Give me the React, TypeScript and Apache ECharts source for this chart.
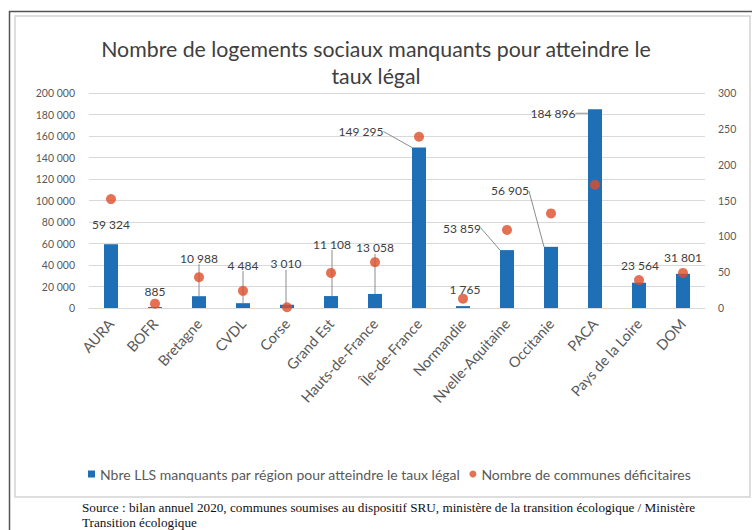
import React, { useEffect, useRef } from "react";
import * as echarts from "echarts";

const categories = [
  "AURA", "BOFR", "Bretagne", "CVDL", "Corse", "Grand Est", "Hauts-de-France",
  "Île-de-France", "Normandie", "Nvelle-Aquitaine", "Occitanie", "PACA",
  "Pays de la Loire", "DOM",
];
const logementsManquants = [59324, 885, 10988, 4484, 3010, 11108, 13058, 149295, 1765, 53859, 56905, 184896, 23564, 31801];
const communesDeficitaires = [152, 6, 43, 24, 1, 49, 64, 239, 13, 109, 132, 172, 39, 49];

const seriesBarName = "Nbre LLS manquants par région pour atteindre le taux légal";
const seriesDotName = "Nombre de communes déficitaires";
const titleText = "Nombre de logements sociaux manquants pour atteindre le\ntaux légal";
const sourceLine1 = "Source : bilan annuel 2020, communes soumises au dispositif SRU, ministère de la transition écologique / Ministère";
const sourceLine2 = "Transition écologique";

const leftMax = 200000;
const leftInterval = 20000;
const rightMax = 300;
const rightInterval = 50;

// label displacements (styling) and leader-line flags
const labelDx = [0, 0, 0, 0, -1, 1, 0, -58, 2, -45, -41, -42, 1, 0];
const labelDy = [-9, -5, -27, -27, -30, -41, -35, -5, -6, -11, -45, 15, -6, -5];
const labelLines = [false, false, true, true, true, true, true, true, false, true, true, true, false, false];

const fmt = (v: number) => String(Math.round(v)).replace(/\B(?=(\d{3})+(?!\d))/g, " ");

const FONT = "Lato, 'Open Sans', sans-serif";

export default function App() {
  const ref = useRef<HTMLDivElement>(null);
  useEffect(() => {
    if (!ref.current) return;
    const chart = echarts.init(ref.current, undefined, { renderer: "svg" });
    chart.setOption({
      animation: false,
      backgroundColor: "#ffffff",
      textStyle: { fontFamily: FONT },
      title: {
        text: titleText,
        left: "center",
        top: 30,
        textStyle: {
          fontFamily: FONT,
          fontSize: 21.3,
          fontWeight: "normal",
          color: "#404040",
          lineHeight: 27,
        },
      },
      grid: { left: 89, right: 47, top: 93, bottom: 222 },
      legend: {
        left: 83,
        top: 462,
        itemWidth: 7,
        itemHeight: 7,
        itemGap: 9,
        textStyle: { fontFamily: FONT, fontSize: 14, color: "#595959" },
        data: [
          { name: seriesBarName, icon: "rect" },
          { name: seriesDotName, icon: "circle" },
        ],
      },
      xAxis: {
        type: "category",
        data: categories,
        axisTick: { show: false },
        axisLine: { lineStyle: { color: "#d9d9d9" } },
        axisLabel: {
          interval: 0,
          rotate: 48,
          margin: 13,
          fontFamily: FONT,
          fontSize: 14.5,
          color: "#595959",
        },
      },
      yAxis: [
        {
          type: "value",
          min: 0,
          max: leftMax,
          interval: leftInterval,
          axisLine: { show: false },
          axisTick: { show: false },
          splitLine: { lineStyle: { color: "#d9d9d9" } },
          axisLabel: {
            margin: 14,
            fontFamily: FONT,
            fontSize: 10.5,
            color: "#595959",
            formatter: (v: number) => fmt(v),
          },
        },
        {
          type: "value",
          min: 0,
          max: rightMax,
          interval: rightInterval,
          position: "right",
          axisLine: { show: false },
          axisTick: { show: false },
          splitLine: { show: false },
          axisLabel: {
            margin: 13,
            fontFamily: FONT,
            fontSize: 10.5,
            color: "#595959",
          },
        },
      ],
      series: [
        {
          name: seriesBarName,
          type: "bar",
          barWidth: 14,
          itemStyle: { color: "#1f6fb7" },
          data: logementsManquants.map((v, i) => ({
            value: v,
            labelLine: { show: labelLines[i] },
          })),
          label: {
            show: true,
            position: "top",
            distance: 5,
            fontFamily: FONT,
            fontSize: 12,
            color: "#404040",
            formatter: (p: any) => fmt(p.value),
          },
          labelLine: { show: false, lineStyle: { color: "#8c8c8c", width: 1 } },
          labelLayout: (p: any) => ({ dx: labelDx[p.dataIndex], dy: labelDy[p.dataIndex] }),
          z: 2,
        },
        {
          name: seriesDotName,
          type: "scatter",
          yAxisIndex: 1,
          symbol: "circle",
          symbolSize: 10,
          itemStyle: { color: "#df4e2b" },
          data: communesDeficitaires,
          z: 3,
        },
      ],
      graphic: [
        {
          type: "rect",
          shape: { x: 15, y: 16, width: 735, height: 481 },
          style: { fill: "none", stroke: "#d4d4d4", lineWidth: 1.5 },
          silent: true,
        },
        {
          type: "polyline",
          shape: { points: [[9.5, 530], [9.5, 11.5], [752, 11.5]] },
          style: { fill: "none", stroke: "#555555", lineWidth: 1.5 },
          silent: true,
        },
        {
          type: "text",
          x: 82,
          y: 500,
          style: {
            text: sourceLine1 + "\n" + sourceLine2,
            font: "13.2px 'Liberation Serif', 'Times New Roman', serif",
            fill: "#111111",
            lineHeight: 15,
          },
          silent: true,
        },
      ],
    });
    return () => chart.dispose();
  }, []);
  return (
    <div
      ref={ref}
      style={{ position: "fixed", left: 0, top: 0, width: 752, height: 530 }}
    />
  );
}
